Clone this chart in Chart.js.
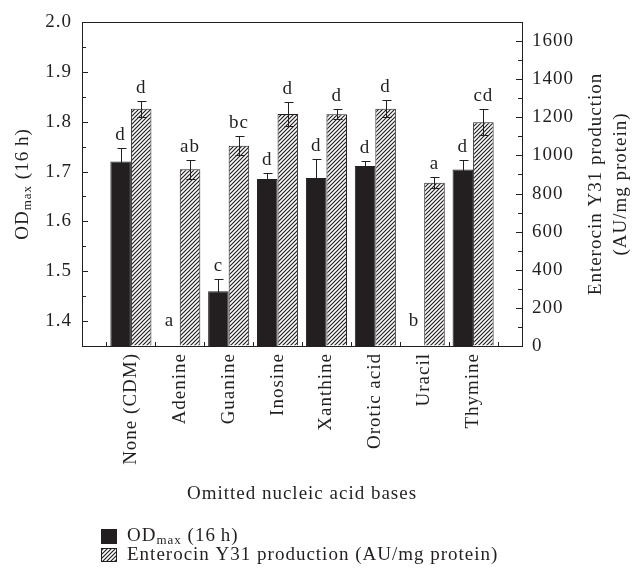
<!DOCTYPE html>
<html>
<head>
<meta charset="utf-8">
<script src="https://cdn.jsdelivr.net/npm/chart.js@4.4.1/dist/chart.umd.min.js"></script>
<style>
  html, body { margin: 0; padding: 0; background: #fff; }
</style>
</head>
<body>
<canvas id="chart" width="635" height="577"></canvas>
<script>
// data
const categories = ['None (CDM)', 'Adenine', 'Guanine', 'Inosine', 'Xanthine', 'Orotic acid', 'Uracil', 'Thymine'];
const odValues = [1.72, null, 1.46, 1.685, 1.687, 1.711, null, 1.704];
const odErrors = [0.028, 0, 0.025, 0.012, 0.038, 0.010, 0, 0.020];
const odLetters = ['d', 'a', 'c', 'd', 'd', 'd', 'b', 'd'];
const entValues = [1245, 927, 1051, 1217, 1216, 1245, 857, 1174];
const entErrors = [42, 49, 51, 65, 26, 46, 28, 68];
const entLetters = ['d', 'ab', 'bc', 'd', 'd', 'd', 'a', 'cd'];
const odTicks = [1.4, 1.5, 1.6, 1.7, 1.8, 1.9, 2.0];
const entTicks = [0, 200, 400, 600, 800, 1000, 1200, 1400, 1600];

const INK = '#231f20';
const FONT = "'Liberation Serif', 'Times New Roman', serif";
const SPACING = '1px';
Chart.defaults.font.family = FONT;
Chart.defaults.font.size = 19;
Chart.defaults.color = INK;

const canvas = document.getElementById('chart');
const ctx = canvas.getContext('2d');

function makeHatch() {
  const c = document.createElement('canvas');
  c.width = 4; c.height = 4;
  const g = c.getContext('2d');
  g.fillStyle = '#fff';
  g.fillRect(0, 0, 4, 4);
  g.strokeStyle = INK;
  g.lineWidth = 1.2;
  g.beginPath();
  g.moveTo(-1, 5); g.lineTo(5, -1);
  g.moveTo(-1, 1); g.lineTo(1, -1);
  g.moveTo(3, 5); g.lineTo(5, 3);
  g.stroke();
  return ctx.createPattern(c, 'repeat');
}
const hatch = makeHatch();

// empty slots at both ends give the half-category margin of the original
const labels = ['', ...categories, ''];
const pad = arr => [null, ...arr, null];

function sameTick(list, v) {
  return list.some(t => Math.abs(t - v) < 1e-6);
}

function drawSub(c, parts, x, y) {
  let cx = x;
  parts.forEach(([t, sub]) => {
    c.font = (sub ? '13px ' : '19px ') + FONT;
    c.fillText(t, cx, y + (sub ? 5 : 0));
    cx += c.measureText(t).width;
  });
}
function subWidth(c, parts) {
  let w = 0;
  parts.forEach(([t, sub]) => {
    c.font = (sub ? '13px ' : '19px ') + FONT;
    w += c.measureText(t).width;
  });
  return w;
}
const odTitle = [['OD', false], ['max', true], [' (16\u2009h)', false]];

// wider letter fit, closer to the original typeface
const spacing = {
  id: 'spacing',
  beforeUpdate(chart) { chart.ctx.letterSpacing = SPACING; },
  beforeDraw(chart) { chart.ctx.letterSpacing = SPACING; }
};

const innerTicks = {
  id: 'innerTicks',
  afterDraw(chart) {
    const c = chart.ctx;
    const { x, y, y2 } = chart.scales;
    c.save();
    c.strokeStyle = INK;
    c.lineWidth = 1;
    c.beginPath();
    y.ticks.forEach(t => {
      const py = Math.round(y.getPixelForValue(t.value)) + 0.5;
      const len = sameTick(odTicks, t.value) ? 6 : 4;
      c.moveTo(y.right, py); c.lineTo(y.right + len, py);
    });
    y2.ticks.forEach(t => {
      const py = Math.round(y2.getPixelForValue(t.value)) + 0.5;
      const len = sameTick(entTicks, t.value) ? 6 : 4;
      c.moveTo(y2.left, py); c.lineTo(y2.left - len, py);
    });
    for (let i = 1; i < labels.length; i++) {
      const px = Math.round(x.getPixelForValue(i - 0.5)) + 0.5;
      c.moveTo(px, x.top); c.lineTo(px, x.top - 4);
    }
    c.stroke();
    c.restore();
  }
};

const errorBars = {
  id: 'errorBars',
  afterDatasetsDraw(chart) {
    const c = chart.ctx;
    const sets = [
      [0, odErrors, odLetters, chart.scales.y],
      [1, entErrors, entLetters, chart.scales.y2]
    ];
    c.save();
    c.strokeStyle = INK;
    c.fillStyle = INK;
    c.lineWidth = 1;
    c.font = '19px ' + FONT;
    c.textAlign = 'center';
    c.textBaseline = 'alphabetic';
    sets.forEach(([di, errs, letters, scale]) => {
      const meta = chart.getDatasetMeta(di);
      const vals = chart.data.datasets[di].data;
      meta.data.forEach((bar, i) => {
        const k = i - 1;
        if (k < 0 || k >= categories.length) return;
        const v = vals[i];
        const x = bar.x;
        let ly;
        if (v == null) {
          ly = scale.bottom - 20;
        } else {
          const yt = Math.round(scale.getPixelForValue(v + errs[k])) + 0.5;
          const yb = Math.round(scale.getPixelForValue(v - errs[k])) + 0.5;
          const xx = Math.round(x) + 0.5;
          c.beginPath();
          c.moveTo(xx, yt); c.lineTo(xx, yb);
          c.moveTo(xx - 4, yt); c.lineTo(xx + 5, yt);
          c.moveTo(xx - 4, yb); c.lineTo(xx + 5, yb);
          c.stroke();
          ly = yt - 9;
        }
        c.fillText(letters[k], x, ly);
      });
    });
    c.restore();
  }
};

const titlesAndLegend = {
  id: 'titlesAndLegend',
  afterDraw(chart) {
    const c = chart.ctx;
    const area = chart.chartArea;
    const midY = (area.top + area.bottom) / 2;
    c.save();
    c.fillStyle = INK;
    c.textBaseline = 'middle';
    c.textAlign = 'left';

    // left axis title, rotated
    c.save();
    c.translate(23, midY);
    c.rotate(-Math.PI / 2);
    drawSub(c, odTitle, -subWidth(c, odTitle) / 2, 0);
    c.restore();

    // right axis title, two lines, rotated the same way
    c.font = '19px ' + FONT;
    c.textAlign = 'center';
    [['Enterocin Y31 production', 596], ['(AU/mg protein)', 621]].forEach(([t, x]) => {
      c.save();
      c.translate(x, midY);
      c.rotate(-Math.PI / 2);
      c.fillText(t, 0, 0);
      c.restore();
    });

    // legend
    c.textAlign = 'left';
    c.fillStyle = INK;
    c.fillRect(101, 529, 16, 15);
    drawSub(c, odTitle, 127, 536);
    c.fillStyle = hatch;
    c.fillRect(101, 548, 16, 14);
    c.strokeStyle = INK;
    c.lineWidth = 1;
    c.strokeRect(101.5, 548.5, 15, 13);
    c.fillStyle = INK;
    c.font = '19px ' + FONT;
    c.fillText('Enterocin Y31 production (AU/mg protein)', 127, 555);
    c.restore();
  }
};

const axisLine = { display: true, color: INK, width: 1 };

new Chart(ctx, {
  type: 'bar',
  data: {
    labels: labels,
    datasets: [
      {
        label: 'OD max (16 h)',
        data: pad(odValues),
        yAxisID: 'y',
        backgroundColor: INK,
        borderColor: INK,
        borderWidth: 1
      },
      {
        label: 'Enterocin Y31 production (AU/mg protein)',
        data: pad(entValues),
        yAxisID: 'y2',
        backgroundColor: hatch,
        borderColor: INK,
        borderWidth: 1
      }
    ]
  },
  options: {
    responsive: false,
    animation: false,
    layout: { padding: { top: 22, bottom: 72, left: 0, right: 0 } },
    datasets: { bar: { categoryPercentage: 0.84, barPercentage: 1.0 } },
    plugins: { legend: { display: false }, tooltip: { enabled: false } },
    scales: {
      x: {
        type: 'category',
        position: 'bottom',
        offset: false,
        grid: { drawOnChartArea: false, drawTicks: false },
        border: axisLine,
        ticks: { autoSkip: false, minRotation: 90, maxRotation: 90, padding: 7, color: INK },
        title: {
          display: true,
          text: 'Omitted nucleic acid bases',
          color: INK,
          font: { size: 19 },
          padding: { top: 0, bottom: 0 }
        },
        afterFit: s => { s.height = 159; }
      },
      x2: {
        type: 'linear',
        position: 'top',
        min: 0, max: 1,
        grid: { display: false, drawOnChartArea: false, drawTicks: false },
        border: axisLine,
        ticks: { display: false },
        afterFit: s => { s.height = 0; }
      },
      y: {
        type: 'linear',
        position: 'left',
        min: 1.35, max: 2.0,
        beginAtZero: false,
        grid: { drawOnChartArea: false, drawTicks: false },
        border: axisLine,
        ticks: {
          stepSize: 0.05,
          autoSkip: false,
          padding: 10,
          color: INK,
          callback: v => sameTick(odTicks, v) ? v.toFixed(1) : ''
        },
        afterFit: s => { s.width = 82; }
      },
      y2: {
        type: 'linear',
        position: 'right',
        min: 0, max: 1700,
        beginAtZero: false,
        grid: { drawOnChartArea: false, drawTicks: false },
        border: axisLine,
        ticks: {
          stepSize: 100,
          autoSkip: false,
          padding: 10,
          color: INK,
          callback: v => sameTick(entTicks, v) ? String(v) : ''
        },
        afterFit: s => { s.width = 113; }
      }
    }
  },
  plugins: [spacing, innerTicks, errorBars, titlesAndLegend]
});
</script>
</body>
</html>
